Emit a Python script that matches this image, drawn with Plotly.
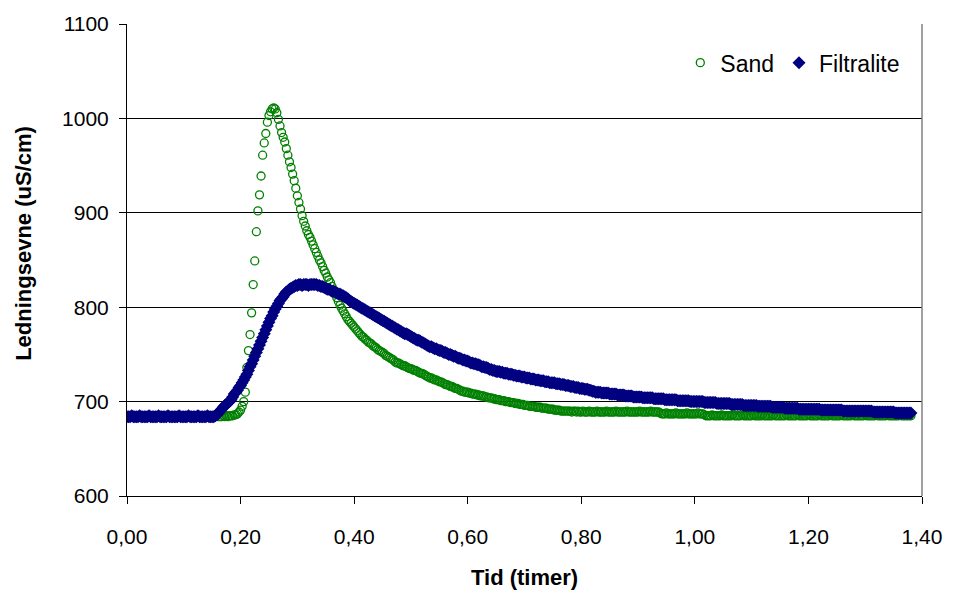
import plotly.graph_objects as go

# Conductivity logged every 10 seconds after the tracer pulse
SAMPLE_INTERVAL_S = 10

sand_us_cm = [
    684, 684, 685, 684, 684, 684, 685, 684, 684, 684,
    684, 685, 684, 684, 684, 684, 685, 684, 684, 685,
    684, 684, 684, 685, 684, 684, 684, 684, 685, 684,
    684, 684, 685, 684, 684, 684, 684, 685, 684, 684,
    684, 685, 684, 684, 684, 684, 685, 684, 684, 684,
    684, 684, 685, 684, 684, 684, 684, 685, 684, 684,
    684, 685, 684, 685, 684, 685, 685, 685, 686, 686,
    687, 689, 691, 695, 700, 710, 736, 754, 771, 794,
    824, 849, 880, 902, 919, 939, 961, 974, 984, 996,
    1003, 1007, 1010, 1011, 1010, 1006, 999, 992, 985, 980,
    975, 968, 961, 954, 948, 941, 934, 926, 918, 911,
    904, 897, 891, 886, 881, 877, 874, 870, 866, 862,
    858, 854, 850, 847, 843, 839, 836, 832, 829, 826,
    822, 818, 814, 810, 806, 802, 799, 796, 793, 790,
    787, 785, 783, 781, 779, 777, 775, 773, 771, 769,
    768, 766, 765, 763, 762, 761, 759, 758, 757, 755,
    754, 753, 752, 751, 749, 748, 747, 746, 745, 744,
    742, 741, 741, 740, 739, 738, 738, 737, 736, 735,
    735, 734, 733, 733, 732, 731, 730, 730, 729, 728,
    727, 726, 725, 725, 724, 723, 723, 722, 721, 721,
    720, 719, 718, 718, 717, 716, 716, 715, 714, 714,
    713, 712, 711, 711, 710, 710, 710, 709, 709, 708,
    708, 708, 707, 707, 706, 706, 706, 705, 705, 704,
    704, 704, 703, 703, 702, 702, 702, 701, 701, 701,
    700, 700, 700, 699, 699, 699, 698, 698, 698, 697,
    697, 697, 696, 696, 696, 695, 695, 695, 695, 694,
    694, 694, 694, 693, 693, 693, 693, 692, 692, 692,
    692, 691, 691, 691, 691, 690, 690, 690, 690, 690,
    690, 690, 689, 690, 690, 689, 690, 689, 689, 690,
    689, 689, 689, 690, 689, 689, 689, 689, 690, 689,
    689, 689, 689, 689, 690, 689, 689, 689, 689, 689,
    690, 689, 689, 689, 689, 689, 689, 690, 689, 689,
    689, 689, 689, 689, 689, 690, 689, 689, 689, 689,
    689, 689, 690, 689, 689, 689, 689, 689, 688, 687,
    687, 687, 688, 687, 687, 687, 687, 687, 688, 687,
    687, 687, 687, 687, 687, 688, 687, 687, 687, 687,
    687, 687, 688, 687, 687, 687, 686, 685, 685, 685,
    685, 686, 685, 685, 685, 685, 685, 686, 685, 685,
    685, 685, 685, 685, 686, 685, 685, 685, 685, 685,
    686, 685, 685, 685, 685, 685, 685, 686, 685, 685,
    685, 685, 685, 686, 685, 685, 685, 685, 685, 685,
    686, 685, 685, 685, 685, 685, 685, 685, 686, 685,
    685, 685, 685, 685, 685, 686, 685, 685, 685, 685,
    685, 685, 686, 685, 685, 685, 685, 685, 685, 686,
    685, 685, 685, 685, 685, 685, 686, 685, 685, 685,
    685, 685, 685, 686, 685, 685, 685, 685, 685, 685,
    686, 685, 685, 685, 685, 685, 685, 685, 686, 685,
    685, 685, 685, 685, 685, 686, 685, 685, 685, 685,
    685, 685, 686, 685, 685, 685, 685, 685, 685, 685,
    686, 685, 685, 685, 685, 685, 685, 685,
]

filtralite_us_cm = [
    684, 684, 684, 685, 684, 684, 684, 684, 685, 684,
    684, 684, 684, 684, 685, 684, 684, 684, 684, 684,
    685, 684, 684, 684, 684, 684, 685, 684, 684, 684,
    684, 684, 684, 685, 684, 684, 684, 684, 684, 685,
    684, 684, 684, 684, 684, 685, 684, 684, 684, 684,
    684, 685, 684, 684, 684, 684, 685, 686, 688, 690,
    692, 694, 696, 697, 699, 700, 702, 705, 708, 710,
    712, 715, 717, 720, 723, 726, 729, 733, 737, 740,
    744, 748, 752, 756, 760, 764, 768, 772, 776, 780,
    784, 788, 791, 795, 798, 801, 804, 807, 809, 811,
    814, 816, 817, 819, 820, 821, 822, 823, 823, 824,
    824, 823, 824, 824, 824, 823, 824, 824, 824, 824,
    824, 823, 823, 822, 822, 821, 820, 819, 819, 818,
    817, 817, 816, 815, 814, 814, 813, 812, 811, 810,
    809, 807, 806, 805, 804, 803, 802, 801, 800, 799,
    798, 797, 796, 795, 794, 793, 792, 791, 790, 789,
    788, 787, 786, 785, 784, 783, 782, 781, 780, 779,
    778, 777, 776, 775, 774, 773, 772, 772, 771, 770,
    769, 768, 767, 766, 765, 765, 764, 763, 762, 761,
    760, 759, 758, 758, 757, 756, 756, 755, 754, 754,
    753, 752, 752, 751, 750, 750, 749, 748, 748, 747,
    746, 746, 745, 744, 744, 743, 743, 742, 741, 741,
    740, 740, 739, 739, 738, 737, 737, 736, 736, 735,
    734, 734, 733, 733, 732, 732, 732, 731, 731, 730,
    730, 730, 729, 729, 729, 728, 728, 727, 727, 727,
    726, 726, 726, 725, 725, 725, 724, 724, 724, 723,
    723, 723, 722, 722, 722, 721, 721, 721, 720, 720,
    720, 720, 719, 719, 719, 718, 718, 718, 717, 717,
    717, 716, 716, 716, 715, 715, 715, 714, 714, 714,
    713, 713, 713, 712, 712, 711, 711, 710, 710, 710,
    710, 709, 709, 709, 709, 709, 708, 708, 708, 708,
    708, 707, 707, 707, 707, 707, 706, 706, 706, 706,
    706, 705, 705, 705, 705, 705, 705, 704, 704, 704,
    704, 704, 704, 704, 703, 703, 703, 703, 703, 703,
    703, 702, 702, 702, 702, 702, 702, 702, 702, 701,
    701, 701, 701, 701, 701, 701, 701, 700, 700, 700,
    700, 700, 700, 700, 700, 700, 699, 699, 699, 699,
    699, 699, 699, 699, 698, 698, 698, 698, 698, 698,
    698, 698, 698, 697, 697, 697, 697, 697, 697, 697,
    697, 696, 696, 696, 696, 696, 696, 696, 696, 696,
    695, 695, 695, 695, 695, 695, 695, 695, 695, 694,
    694, 694, 694, 694, 694, 694, 694, 693, 693, 693,
    693, 693, 693, 693, 693, 693, 692, 692, 692, 692,
    692, 692, 692, 692, 692, 692, 692, 692, 692, 692,
    691, 691, 691, 691, 691, 691, 691, 691, 691, 691,
    691, 691, 691, 691, 690, 690, 690, 690, 690, 690,
    690, 690, 690, 690, 690, 690, 690, 690, 690, 690,
    690, 690, 690, 689, 689, 689, 689, 689, 689, 689,
    689, 689, 689, 689, 689, 689, 689, 688, 688, 688,
    688, 688, 688, 688, 688, 688, 688, 688,
]

x_ticks = [0.0, 0.2, 0.4, 0.6, 0.8, 1.0, 1.2, 1.4]
y_ticks = [600, 700, 800, 900, 1000, 1100]

time_sand = [i * SAMPLE_INTERVAL_S / 3600 for i in range(len(sand_us_cm))]
time_filtralite = [i * SAMPLE_INTERVAL_S / 3600 for i in range(len(filtralite_us_cm))]

FONT = "Liberation Sans, Arial, sans-serif"

fig = go.Figure()
fig.add_trace(go.Scatter(
    x=time_sand, y=sand_us_cm, name="Sand", mode="markers",
    marker=dict(symbol="circle-open", size=8, color="#008000",
                line=dict(width=1.3, color="#008000")),
))
fig.add_trace(go.Scatter(
    x=time_filtralite, y=filtralite_us_cm, name="Filtralite", mode="markers",
    marker=dict(symbol="diamond", size=10, color="#000080",
                line=dict(width=0)),
))

fig.update_layout(
    width=959, height=591,
    margin=dict(l=127, r=37, t=22, b=95),
    paper_bgcolor="white", plot_bgcolor="white",
    separators=", ",
    font=dict(family=FONT, size=21, color="black"),
    showlegend=True,
    legend=dict(
        orientation="h", x=0.979, xanchor="right", y=0.918, yanchor="middle",
        bgcolor="rgba(0,0,0,0)", font=dict(size=23, family=FONT),
        itemwidth=30, tracegroupgap=0,
    ),
    xaxis=dict(
        range=[0, 1.4], tickvals=x_ticks, tickformat=".2f",
        showgrid=False, zeroline=False,
        showline=True, linecolor="black", linewidth=1,
        ticks="outside", ticklen=7, tickcolor="black", tickwidth=1,
        ticklabelstandoff=15,
        tickfont=dict(size=21, family=FONT, color="black"),
    ),
    yaxis=dict(
        range=[600, 1100], tickvals=y_ticks,
        showgrid=True, gridcolor="black", gridwidth=1, zeroline=False,
        showline=True, linecolor="black", linewidth=1,
        ticks="outside", ticklen=7, tickcolor="black", tickwidth=1,
        ticklabelstandoff=6,
        tickfont=dict(size=21, family=FONT, color="black"),
    ),
    shapes=[dict(type="line", xref="paper", yref="paper", x0=1, x1=1, y0=0, y1=1,
                 line=dict(color="#808080", width=1.5))],
    annotations=[
        dict(text="<b>Tid (timer)</b>", xref="paper", yref="paper",
             x=0.5, y=-0.173, xanchor="center", yanchor="middle",
             showarrow=False, font=dict(size=22, family=FONT, color="black")),
        dict(text="<b>Ledningsevne (uS/cm)</b>", xref="paper", yref="paper",
             x=-0.131, y=0.536, xanchor="center", yanchor="middle", textangle=-90,
             showarrow=False, font=dict(size=22, family=FONT, color="black")),
    ],
)

fig.write_html("out.html")
